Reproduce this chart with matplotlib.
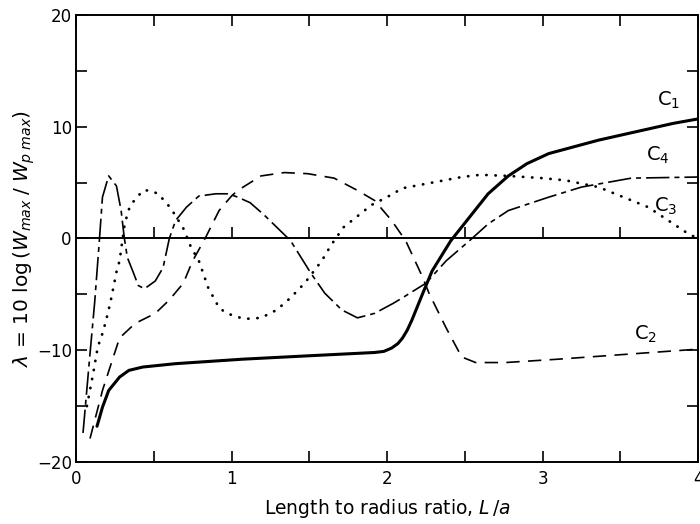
# -*- coding: UTF-8 -*-
import matplotlib
matplotlib.use('Agg')
import matplotlib.pyplot as plt
from matplotlib.ticker import MultipleLocator, NullFormatter

# 读图得到的数据 (L/a, lambda)
c1_x = [0.135, 0.17, 0.21, 0.28, 0.34, 0.43, 0.64, 1.07, 1.49, 1.92, 1.98, 2.03,
        2.07, 2.10, 2.13, 2.16, 2.23, 2.29, 2.41, 2.53, 2.65, 2.78, 2.9, 3.04,
        3.2, 3.36, 3.52, 3.68, 3.84, 4.0]
c1_y = [-16.8, -15.1, -13.6, -12.4, -11.8, -11.5, -11.2, -10.8, -10.5, -10.2,
        -10.1, -9.8, -9.4, -8.9, -8.2, -7.3, -4.9, -2.9, -0.2, 1.9, 4.0, 5.6,
        6.7, 7.6, 8.2, 8.8, 9.3, 9.8, 10.3, 10.7]

c2_x = [0.09, 0.17, 0.24, 0.28, 0.38, 0.51, 0.60, 0.69, 0.75, 0.83, 0.92, 1.0,
        1.04, 1.19, 1.34, 1.49, 1.66, 1.81, 1.92, 2.03, 2.12, 2.23, 2.27, 2.38,
        2.48, 2.57, 2.76, 3.1, 3.5, 4.0]
c2_y = [-17.9, -13.6, -10.6, -8.9, -7.6, -6.7, -5.5, -4.0, -2.0, 0.0, 2.5, 3.8,
        4.3, 5.6, 5.9, 5.8, 5.4, 4.3, 3.4, 1.6, -0.2, -3.5, -4.9, -8.0, -10.6,
        -11.1, -11.1, -10.8, -10.4, -9.9]

c3_x = [0.07, 0.11, 0.14, 0.17, 0.19, 0.22, 0.26, 0.28, 0.31, 0.33, 0.35, 0.40,
        0.43, 0.47, 0.53, 0.56, 0.61, 0.69, 0.74, 0.79, 0.85, 0.92, 0.97, 1.08,
        1.19, 1.29, 1.38, 1.47, 1.58, 1.64, 1.72, 1.81, 1.90, 2.0, 2.10, 2.29,
        2.48, 2.6, 2.78, 3.0, 3.15, 3.36, 3.68, 3.94, 4.0]
c3_y = [-15.0, -12.1, -9.7, -8.5, -7.5, -5.8, -3.0, -2.0, 1.0, 2.2, 3.0, 3.8,
        4.3, 4.3, 4.0, 3.5, 2.7, 0.9, -0.8, -2.0, -4.4, -6.2, -6.7, -7.2,
        -7.1, -6.4, -5.3, -4.0, -2.0, -0.6, 1.0, 2.0, 3.0, 3.7, 4.5, 5.0,
        5.5, 5.7, 5.6, 5.4, 5.2, 4.6, 2.8, 0.4, 0.0]

c4_x = [0.045, 0.09, 0.12, 0.15, 0.17, 0.21, 0.26, 0.29, 0.31, 0.33, 0.37, 0.40,
        0.44, 0.51, 0.56, 0.60, 0.64, 0.71, 0.79, 0.90, 0.98, 1.04, 1.12, 1.21,
        1.38, 1.51, 1.60, 1.71, 1.81, 1.92, 2.04, 2.10, 2.25, 2.38, 2.53, 2.65,
        2.78, 3.04, 3.25, 3.57, 4.0]
c4_y = [-17.4, -10.3, -5.7, -0.2, 3.7, 5.6, 4.7, 2.5, 0.1, -1.7, -3.1, -4.2,
        -4.5, -3.8, -2.6, 0.0, 1.6, 2.8, 3.8, 4.0, 4.0, 3.7, 3.2, 2.1,
        -0.2, -3.1, -4.9, -6.4, -7.1, -6.7, -5.8, -5.3, -4.0, -2.0, -0.2, 1.3,
        2.5, 3.7, 4.6, 5.4, 5.5]

curve_labels = ['C$_1$', 'C$_2$', 'C$_3$', 'C$_4$']
label_x = [3.81, 3.66, 3.79, 3.74]
label_y = [12.4, -8.6, 2.9, 7.4]

zero_ticks = [0.5, 1.0, 1.5, 2.0, 2.5, 3.0, 3.5]

fig = plt.figure(figsize=(7, 5.24), dpi=100)
ax = fig.add_axes([0.1086, 0.1183, 0.8886, 0.8531])

ax.plot(c1_x, c1_y, color='k', lw=2.2, solid_capstyle='round',
        solid_joinstyle='round')
ax.plot(c2_x, c2_y, color='k', lw=1.2, linestyle=(0, (8, 5)))
ax.plot(c3_x, c3_y, color='k', lw=2.0, linestyle=(0, (0.1, 3.2)),
        dash_capstyle='round')
ax.plot(c4_x, c4_y, color='k', lw=1.2, linestyle=(0, (14, 3, 3, 3)))

# 零线及其上的刻度
ax.axhline(0, color='k', lw=1.4)
ax.plot(zero_ticks, [0] * len(zero_ticks), linestyle='none', marker=2,
        markersize=8, color='k', markeredgewidth=1.2)

for lab, lx, ly in zip(curve_labels, label_x, label_y):
    ax.text(lx, ly, lab, fontsize=14, ha='center', va='center')

ax.set_xlim(0, 4)
ax.set_ylim(-20, 20)
ax.xaxis.set_major_locator(MultipleLocator(1))
ax.xaxis.set_minor_locator(MultipleLocator(0.5))
ax.yaxis.set_minor_locator(MultipleLocator(5))
ax.yaxis.set_minor_formatter(NullFormatter())
ax.set_yticks([-20, -10, 0, 10, 20])
ax.set_yticklabels(['\u221220', '\u221210', '0', '10', '20'])

ax.tick_params(which='both', direction='in', top=True, right=True,
               length=8, width=1.2, labelsize=12)
ax.tick_params(axis='x', pad=6)
ax.tick_params(axis='y', pad=3)

for sp in ax.spines.values():
    sp.set_linewidth(1.4)

ax.set_xlabel(r'Length to radius ratio, $L\,/a$', fontsize=13.5, labelpad=6)
ax.set_ylabel(r'$\lambda$ = 10 log$\,(W_{max}\;/\;W_{p\;max})$', fontsize=14.5,
              labelpad=0)

fig.savefig('out.png', dpi=100)
